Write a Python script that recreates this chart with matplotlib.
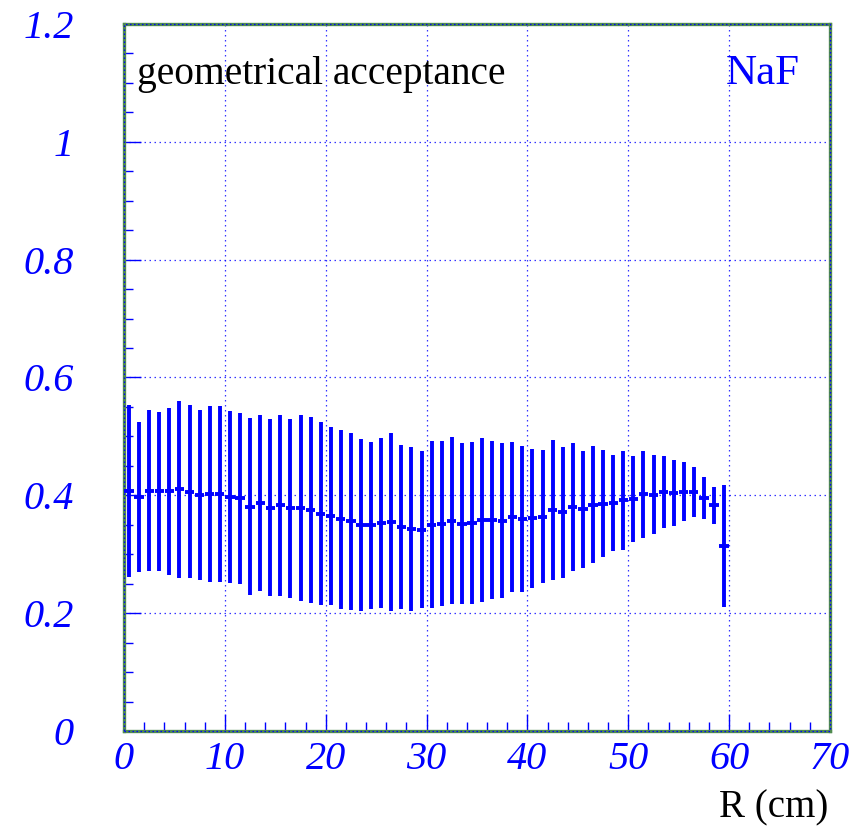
import numpy as np
import matplotlib
matplotlib.use("Agg")
import matplotlib.pyplot as plt
from matplotlib.patches import Rectangle
from matplotlib.ticker import MultipleLocator

# ---- data ----
bin_width = 1.0
r_centers = np.arange(0.5, 60.0, bin_width)  # R (cm), 60 bins of 1 cm
acceptance = [0.408, 0.397, 0.408, 0.407, 0.407, 0.410, 0.406, 0.401, 0.402, 0.402,
              0.397, 0.395, 0.381, 0.387, 0.379, 0.383, 0.378, 0.378, 0.375, 0.369,
              0.365, 0.359, 0.356, 0.349, 0.349, 0.353, 0.355, 0.346, 0.343, 0.342,
              0.350, 0.352, 0.357, 0.352, 0.353, 0.358, 0.358, 0.357, 0.363, 0.360,
              0.361, 0.364, 0.375, 0.371, 0.380, 0.376, 0.384, 0.386, 0.387, 0.392,
              0.393, 0.402, 0.401, 0.405, 0.404, 0.406, 0.406, 0.395, 0.383, 0.314]
acceptance_err = [0.146, 0.127, 0.136, 0.135, 0.142, 0.150, 0.147, 0.144, 0.149, 0.149,
                  0.146, 0.145, 0.150, 0.150, 0.150, 0.154, 0.152, 0.158, 0.158, 0.155,
                  0.151, 0.152, 0.150, 0.146, 0.142, 0.144, 0.151, 0.139, 0.139, 0.133,
                  0.142, 0.140, 0.142, 0.137, 0.137, 0.139, 0.134, 0.131, 0.127, 0.124,
                  0.118, 0.113, 0.119, 0.111, 0.108, 0.099, 0.099, 0.091, 0.081, 0.084,
                  0.073, 0.074, 0.067, 0.061, 0.056, 0.050, 0.042, 0.036, 0.031, 0.104]
x_ticks = [0, 10, 20, 30, 40, 50, 60, 70]
y_ticks = [0, 0.2, 0.4, 0.6, 0.8, 1.0, 1.2]
y_tick_labels = ["0", "0.2", "0.4", "0.6", "0.8", "1", "1.2"]
x_tick_labels = [str(v) for v in x_ticks]

BLUE = "#0000ff"
GREEN = "#4f8a4f"

W, H = 863, 826
fig = plt.figure(figsize=(W / 100, H / 100), dpi=100)
ax = fig.add_axes([124 / W, 1 - 731 / H, (830 - 124) / W, (731 - 24) / H])

ax.errorbar(r_centers, acceptance, yerr=acceptance_err, xerr=0.46 * bin_width,
            fmt="none", ecolor=BLUE, elinewidth=2.8, capsize=0, zorder=3)

ax.set_xlim(0, 70)
ax.set_ylim(0, 1.2)

ax.xaxis.set_major_locator(MultipleLocator(10))
ax.xaxis.set_minor_locator(MultipleLocator(2))
ax.yaxis.set_major_locator(MultipleLocator(0.2))
ax.yaxis.set_minor_locator(MultipleLocator(0.05))
ax.set_xticks(x_ticks)
ax.set_xticklabels(x_tick_labels)
ax.set_yticks(y_ticks)
ax.set_yticklabels(y_tick_labels)

ax.tick_params(axis="both", which="both", direction="in", color=BLUE,
               top=False, right=False, width=1)
ax.tick_params(axis="both", which="major", length=12)
ax.tick_params(axis="both", which="minor", length=6.5)
ax.tick_params(axis="x", which="major", pad=7)
ax.tick_params(axis="y", which="major", pad=36)

for lab in ax.get_xticklabels() + ax.get_yticklabels():
    lab.set_fontfamily("Liberation Serif")
    lab.set_fontstyle("italic")
    lab.set_fontsize(29)
    lab.set_color(BLUE)

ax.grid(True, which="major", color=BLUE, linestyle=(0, (1.2, 2.8)), linewidth=0.9, alpha=0.8)
ax.set_axisbelow(True)

for s in ax.spines.values():
    s.set_color(GREEN)
    s.set_linewidth(2.4)
ax.add_patch(Rectangle((0, 0), 1, 1, transform=ax.transAxes, fill=False,
                       edgecolor=BLUE, linewidth=0.9, linestyle=(0, (1.2, 2.0)),
                       clip_on=False, zorder=5))

ax.text((137 - 124) / 706, (731 - 84) / 707, "geometrical acceptance",
        transform=ax.transAxes, fontfamily="Liberation Serif", fontsize=28.4,
        color="black", va="baseline", ha="left")
ax.text((726 - 124) / 706, (731 - 84) / 707, "NaF",
        transform=ax.transAxes, fontfamily="Liberation Serif", fontsize=31,
        color=BLUE, va="baseline", ha="left")

fig.text(828 / W, 1 - 817 / H, "R (cm)", fontfamily="Liberation Serif",
         fontsize=28, color="black", ha="right", va="baseline")

fig.savefig("out.png", dpi=100, facecolor="white")
